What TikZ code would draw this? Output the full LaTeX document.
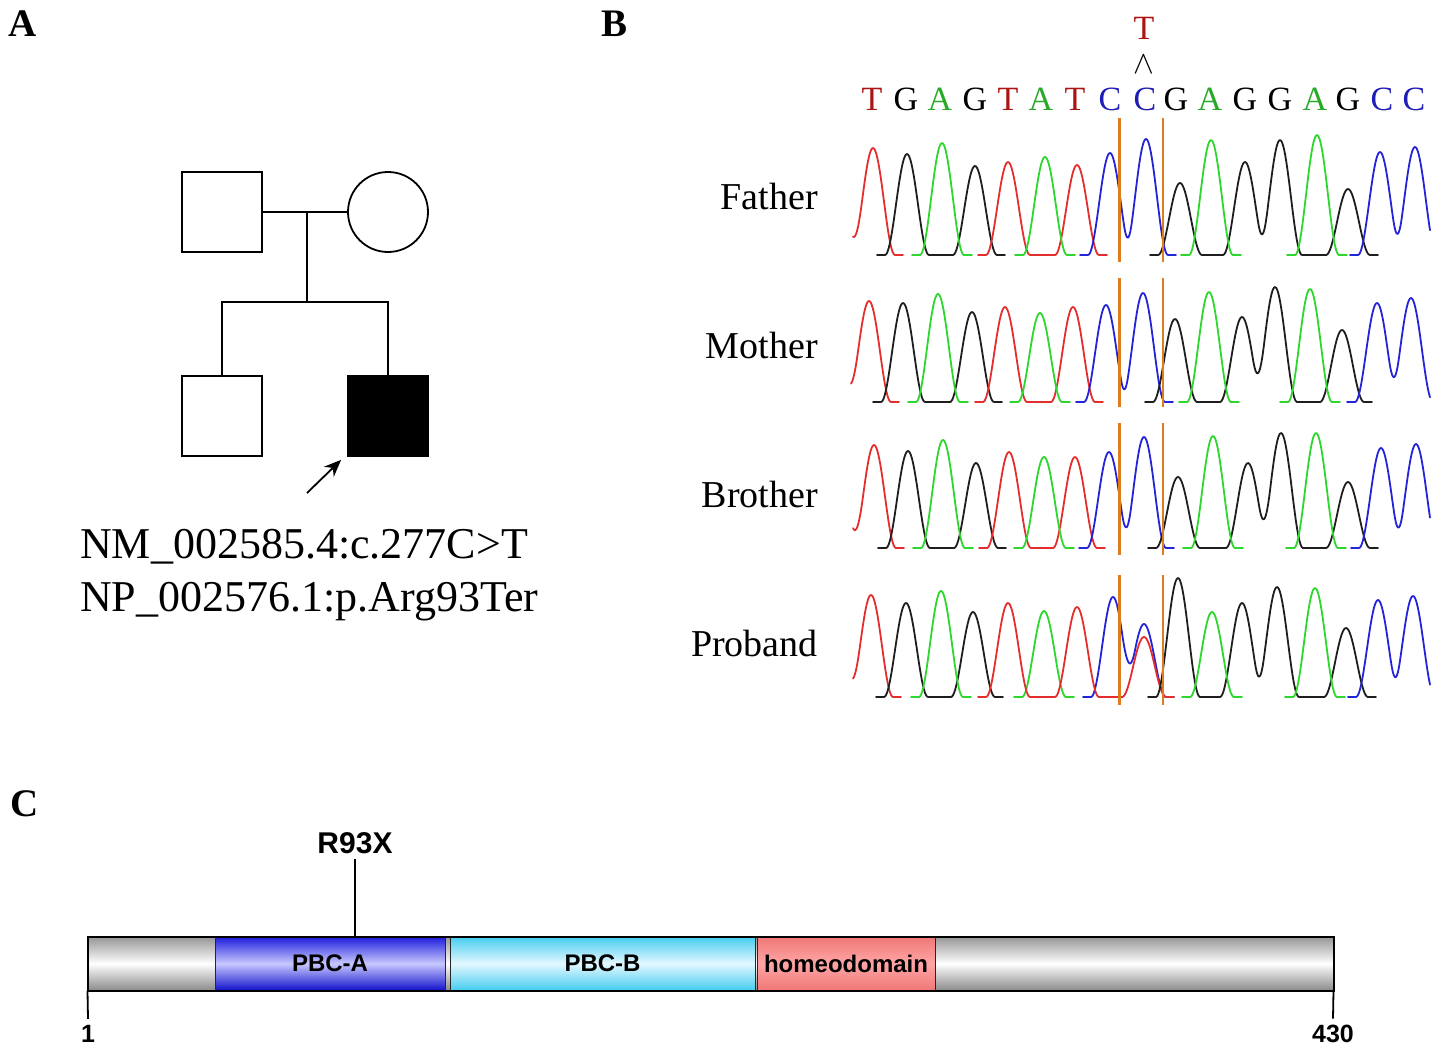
\documentclass[tikz,border=0pt]{standalone}
\usepackage{fontspec}
\usepackage{graphicx}
\setmainfont{Liberation Serif}
\newfontfamily\arialf{Liberation Sans}
\usetikzlibrary{arrows.meta,calc}
\definecolor{trR}{RGB}{228,45,45}
\definecolor{trK}{RGB}{30,30,30}
\definecolor{trG}{RGB}{45,215,45}
\definecolor{trB}{RGB}{35,35,215}
\definecolor{lT}{RGB}{170,20,20}
\definecolor{lA}{RGB}{40,170,40}
\definecolor{lC}{RGB}{30,30,180}
\definecolor{orng}{RGB}{222,125,30}
\tikzset{
  ped/.style={draw, line width=1.8pt, minimum size=80pt, inner sep=0pt},
  sq/.style={ped, rectangle},
  circ/.style={ped, circle},
  pl/.style={line width=1.8pt},
  nt/.style={font=\fontsize{44}{53}\selectfont, anchor=base west, inner sep=0pt},
  pan/.style={font=\fontsize{39}{46}\selectfont\bfseries, anchor=base west, inner sep=0pt},
  who/.style={font=\fontsize{38}{45}\selectfont, anchor=base east, inner sep=0pt},
  nuc/.style={font=\fontsize{34}{40}\selectfont, anchor=base, inner sep=0pt},
  nT/.style={nuc, text=lT},
  nG/.style={nuc, text=black},
  nA/.style={nuc, text=lA},
  nC/.style={nuc, text=lC},
  trc/.style={line width=1.8pt, line join=round, line cap=round},
  rr/.style={trc, trR},
  kk/.style={trc, trK},
  gg/.style={trc, trG},
  bb/.style={trc, trB},
  orA/.style={orng, line width=3pt},
  orB/.style={orng, line width=1.6pt},
  dom/.style={draw=black!85, line width=1pt, minimum height=53pt, inner sep=0pt,
    font=\arialf\bfseries\fontsize{24}{28}\selectfont},
  grayshade/.style={top color={rgb,255:red,150;green,150;blue,150}, bottom color={rgb,255:red,140;green,140;blue,140}, middle color=white},
  ashade/.style={top color={rgb,255:red,30;green,30;blue,220}, bottom color={rgb,255:red,20;green,20;blue,205}, middle color={rgb,255:red,200;green,200;blue,255}},
  bshade/.style={top color={rgb,255:red,70;green,205;blue,240}, bottom color={rgb,255:red,70;green,205;blue,240}, middle color={rgb,255:red,228;green,248;blue,255}},
  hshade/.style={top color={rgb,255:red,240;green,120;blue,120}, bottom color={rgb,255:red,240;green,120;blue,120}, middle color={rgb,255:red,255;green,165;blue,165}},
  tl/.style={font=\arialf\bfseries\fontsize{25}{30}\selectfont, anchor=base, inner sep=0pt, outer sep=6pt}
}
\begin{document}
\begin{tikzpicture}[x=1pt,y=-1pt,
  declare function={pk(\t,\m,\h)=(abs(\t-\m)<22)*\h*(0.5+0.5*cos(8.1818*(\t-\m)));}]
\useasboundingbox (0,0) rectangle (1441,1052);

% ---------- panel labels
\node[pan] (labA) at (8,36) {A};
\node[pan] (labB) at (601,36) {B};
\node[pan] (labC) at (10,816) {C};

% ---------- A: pedigree
\node[sq] (fa) at (222,212) {};
\node[circ] (mo) at (388,212) {};
\node[sq] (bro) at (222,416) {};
\node[sq, fill=black] (pro) at (388,416) {};
\coordinate (mar) at (307,212);
\coordinate (sib) at (307,302);
\coordinate (arS) at (307,493);
\draw[pl] (fa.east) -- (mo.west);
\draw[pl] (mar) -- (sib);
\draw[pl] (bro.north) |- (sib) -| (pro.north);
\draw[pl, -{Stealth[length=17pt,width=14pt]}] (arS) -- ($(pro.south west)+(-6,3)$);
\node[nt] (nm) at (80,558) {NM\_002585.4:c.277C>T};
\node[nt] (np) at (80,611) {NP\_002576.1:p.Arg93Ter};

% ---------- B: sequence
\foreach \l/\xx [count=\i] in {T/872,G/906,A/940,G/975,T/1008,A/1041,T/1075,C/1110,C/1145,G/1176,A/1210,G/1245,G/1280,A/1315,G/1348,C/1382,C/1414}
  \node[n\l] (s\i) at (\xx,110) {\l};
\node[nT] (mutT) at (1144,39) {T};
\node[font=\fontsize{24}{30}\selectfont, anchor=base, inner sep=0pt] (caret) at (1144,73) {\scalebox{1.25}[1.3]{$\wedge$}};

\node[who] (lfa) at (818,209) {Father};
\node[who] (lmo) at (818,358) {Mother};
\node[who] (lbr) at (818,507) {Brother};
\node[who] (lpr) at (818,656) {Proband};

% Father, base 255
\draw[rr] plot[domain=853:903,samples=50] (\x,{255-pk(\x,840,45)-pk(\x,873,107)});
\draw[kk] plot[domain=877:1005,samples=120] (\x,{255-pk(\x,907,101)-pk(\x,975,89)});
\draw[gg] plot[domain=912:972,samples=60] (\x,{255-pk(\x,942,112)});
\draw[rr] plot[domain=978:1107,samples=120] (\x,{255-pk(\x,1008,93)-pk(\x,1077,90)});
\draw[gg] plot[domain=1015:1075,samples=60] (\x,{255-pk(\x,1045,98)});
\draw[bb] plot[domain=1080:1176,samples=100] (\x,{255-pk(\x,1110,102)-pk(\x,1146,116)});
\draw[kk] plot[domain=1150:1378,samples=200] (\x,{255-pk(\x,1180,72)-pk(\x,1245,93)-pk(\x,1280,115)-pk(\x,1348,66)});
\draw[gg] plot[domain=1181:1241,samples=60] (\x,{255-pk(\x,1211,115)});
\draw[gg] plot[domain=1287:1347,samples=60] (\x,{255-pk(\x,1317,120)});
\draw[bb] plot[domain=1350:1430,samples=80] (\x,{255-pk(\x,1380,103)-pk(\x,1415,108)});

% Mother, base 402
\draw[rr] plot[domain=851:899,samples=50] (\x,{402-pk(\x,836,45)-pk(\x,869,101)});
\draw[kk] plot[domain=873:1002,samples=120] (\x,{402-pk(\x,903,99)-pk(\x,972,90)});
\draw[gg] plot[domain=908:968,samples=60] (\x,{402-pk(\x,938,108)});
\draw[rr] plot[domain=975:1103,samples=120] (\x,{402-pk(\x,1005,95)-pk(\x,1073,95)});
\draw[gg] plot[domain=1010:1070,samples=60] (\x,{402-pk(\x,1040,89)});
\draw[bb] plot[domain=1076:1173,samples=100] (\x,{402-pk(\x,1106,97)-pk(\x,1143,109)});
\draw[kk] plot[domain=1145:1372,samples=200] (\x,{402-pk(\x,1175,83)-pk(\x,1242,85)-pk(\x,1275,115)-pk(\x,1342,72)});
\draw[gg] plot[domain=1179:1239,samples=60] (\x,{402-pk(\x,1209,110)});
\draw[gg] plot[domain=1280:1340,samples=60] (\x,{402-pk(\x,1310,113)});
\draw[bb] plot[domain=1347:1430,samples=80] (\x,{402-pk(\x,1377,99)-pk(\x,1411,104)});

% Brother, base 548
\draw[rr] plot[domain=853:904,samples=50] (\x,{548-pk(\x,841,45)-pk(\x,874,103)});
\draw[kk] plot[domain=878:1006,samples=120] (\x,{548-pk(\x,908,97)-pk(\x,976,85)});
\draw[gg] plot[domain=913:973,samples=60] (\x,{548-pk(\x,943,108)});
\draw[rr] plot[domain=979:1105,samples=120] (\x,{548-pk(\x,1009,96)-pk(\x,1075,91)});
\draw[gg] plot[domain=1014:1074,samples=60] (\x,{548-pk(\x,1044,91)});
\draw[bb] plot[domain=1079:1174,samples=100] (\x,{548-pk(\x,1109,96)-pk(\x,1144,111)});
\draw[kk] plot[domain=1148:1378,samples=200] (\x,{548-pk(\x,1178,71)-pk(\x,1248,85)-pk(\x,1281,115)-pk(\x,1348,66)});
\draw[gg] plot[domain=1183:1243,samples=60] (\x,{548-pk(\x,1213,112)});
\draw[gg] plot[domain=1286:1346,samples=60] (\x,{548-pk(\x,1316,115)});
\draw[bb] plot[domain=1351:1430,samples=80] (\x,{548-pk(\x,1381,100)-pk(\x,1416,104)});

% Proband, base 697
\draw[rr] plot[domain=853:901,samples=50] (\x,{697-pk(\x,838,45)-pk(\x,871,102)});
\draw[kk] plot[domain=876:1003,samples=120] (\x,{697-pk(\x,906,94)-pk(\x,973,85)});
\draw[gg] plot[domain=911:971,samples=60] (\x,{697-pk(\x,941,106)});
\draw[gg] plot[domain=1014:1074,samples=60] (\x,{697-pk(\x,1044,86)});
\draw[bb] plot[domain=1083:1174,samples=100] (\x,{697-pk(\x,1113,100)-pk(\x,1144,73)});
\draw[rr] plot[domain=978:1174,samples=180] (\x,{697-pk(\x,1008,94)-pk(\x,1077,90)-pk(\x,1144,60)});
\draw[kk] plot[domain=1148:1376,samples=200] (\x,{697-pk(\x,1178,119)-pk(\x,1242,94)-pk(\x,1277,110)-pk(\x,1346,69)});
\draw[gg] plot[domain=1182:1242,samples=60] (\x,{697-pk(\x,1212,85)});
\draw[gg] plot[domain=1285:1345,samples=60] (\x,{697-pk(\x,1315,109)});
\draw[bb] plot[domain=1348:1430,samples=80] (\x,{697-pk(\x,1378,97)-pk(\x,1413,101)});

% orange markers
\draw[orA] (1119,118) -- (1119,262);
\draw[orB] (1163,118) -- (1163,262);
\draw[orA] (1119,278) -- (1119,407);
\draw[orB] (1163,278) -- (1163,407);
\draw[orA] (1119,423) -- (1119,555);
\draw[orB] (1163,423) -- (1163,555);
\draw[orA] (1119,575) -- (1119,705);
\draw[orB] (1163,575) -- (1163,705);

% ---------- C: protein
\node[dom, grayshade, minimum width=1245pt] (bar) at (710.5,963.5) {};
\node[dom, ashade, minimum width=230pt] (pbca) at (330,963.5) {PBC-A};
\node[dom, bshade, minimum width=305pt] (pbcb) at (602.5,963.5) {PBC-B};
\node[dom, hshade, minimum width=178pt] (homeo) at (846,963.5) {homeodomain};
\draw[line width=2pt] (bar.south west) rectangle (bar.north east);
\node[font=\arialf\bfseries\fontsize{30}{36}\selectfont, anchor=base, inner sep=0pt, outer sep=6pt] (r93) at (355,853) {R93X};
\draw[pl] (r93.south) -- (r93.south |- pbca.north);
\node[tl] (n1) at (88,1042) {1};
\node[tl] (n430) at (1333,1042) {430};
\draw[pl] (bar.south west) -- (n1.north);
\draw[pl] (bar.south east) -- (n430.north);
\end{tikzpicture}
\end{document}
